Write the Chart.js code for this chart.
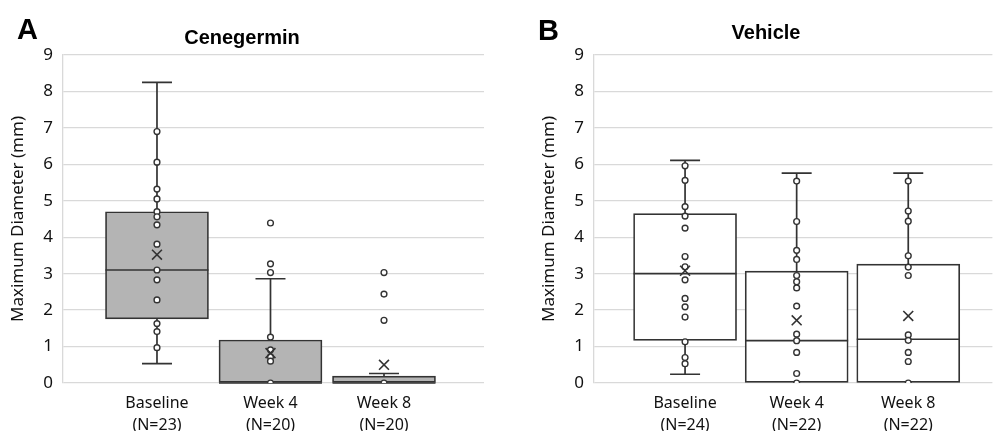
<!DOCTYPE html>
<html>
<head>
<meta charset="utf-8">
<script src="https://cdn.jsdelivr.net/npm/chart.js@4.4.0/dist/chart.umd.min.js"></script>
<style>
  body { margin: 0; background: #fff; width: 1001px; height: 431px; overflow: hidden; position: relative; }
  .panel { position: absolute; top: 0; height: 431px; }
</style>
</head>
<body>
<div class="panel" style="left:0;width:500px"><canvas id="chartA"></canvas></div>
<div class="panel" style="left:531px;width:470px"><canvas id="chartB"></canvas></div>
<script>
const timepoints = ['Baseline', 'Week 4', 'Week 8'];

// Cenegermin (panel A)
const cenegerminN = [23, 20, 20];
const cenegerminMin = [0.53, 0, 0];
const cenegerminQ1 = [1.76, 0, 0];
const cenegerminMedian = [3.10, 0, 0];
const cenegerminQ3 = [4.70, 1.18, 0.19];
const cenegerminMax = [8.25, 2.86, 0.26];
const cenegerminMean = [3.52, 0.82, 0.50];
const cenegerminPoints = [
  [6.90, 6.06, 5.32, 5.05, 4.70, 4.56, 4.34, 3.81, 3.10, 2.83, 2.28, 1.63, 1.41, 0.97],
  [4.39, 3.27, 3.03, 1.26, 0.91, 0.72, 0.60, 0],
  [3.03, 2.44, 1.72, 0]
];

// Vehicle (panel B)
const vehicleN = [24, 22, 22];
const vehicleMin = [0.24, 0, 0];
const vehicleQ1 = [1.17, 0, 0];
const vehicleMedian = [3.00, 1.16, 1.20];
const vehicleQ3 = [4.65, 3.07, 3.26];
const vehicleMax = [6.11, 5.76, 5.76];
const vehicleMean = [3.08, 1.72, 1.84];
const vehiclePoints = [
  [5.96, 5.56, 4.84, 4.58, 4.25, 3.47, 3.19, 2.83, 2.32, 2.09, 1.81, 1.13, 0.70, 0.53],
  [5.54, 4.43, 3.64, 3.39, 2.95, 2.78, 2.61, 2.11, 1.34, 1.16, 0.84, 0.26, 0],
  [5.54, 4.72, 4.44, 3.49, 3.18, 2.95, 1.32, 1.17, 0.84, 0.59, 0]
];

const yTicks = [0, 1, 2, 3, 4, 5, 6, 7, 8, 9];

const lineColor = '#333';
const textColor = '#111';
const gridColor = '#d9d9d9';

// whiskers + median line, drawn right after the boxes
const boxExtras = {
  id: 'boxExtras',
  afterDatasetDraw(chart, args, opts) {
    if (args.index !== 0) return;
    const { ctx, scales: { x, y } } = chart;
    const s = opts.stats;
    ctx.save();
    ctx.strokeStyle = lineColor;
    ctx.lineWidth = 1.7;
    s.median.forEach((m, i) => {
      const cx = x.getPixelForValue(i + 1);
      const half = opts.boxWidth / 2;
      ctx.beginPath();
      ctx.moveTo(cx - half, y.getPixelForValue(m));
      ctx.lineTo(cx + half, y.getPixelForValue(m));
      // upper whisker
      ctx.moveTo(cx, y.getPixelForValue(s.q3[i]));
      ctx.lineTo(cx, y.getPixelForValue(s.max[i]));
      ctx.moveTo(cx - 15, y.getPixelForValue(s.max[i]));
      ctx.lineTo(cx + 15, y.getPixelForValue(s.max[i]));
      // lower whisker
      if (s.min[i] < s.q1[i]) {
        ctx.moveTo(cx, y.getPixelForValue(s.q1[i]));
        ctx.lineTo(cx, y.getPixelForValue(s.min[i]));
        ctx.moveTo(cx - 15, y.getPixelForValue(s.min[i]));
        ctx.lineTo(cx + 15, y.getPixelForValue(s.min[i]));
      }
      ctx.stroke();
    });
    ctx.restore();
  }
};

// panel letter (A / B)
const panelLetter = {
  id: 'panelLetter',
  afterDraw(chart, args, opts) {
    const ctx = chart.ctx;
    ctx.save();
    ctx.font = 'bold 29px "Liberation Sans", Arial, sans-serif';
    ctx.fillStyle = '#000';
    ctx.textBaseline = 'alphabetic';
    ctx.fillText(opts.text, opts.x, opts.y);
    ctx.restore();
  }
};

function makeChart(id, cfg) {
  const scatterPts = [];
  cfg.points.forEach((arr, i) => arr.forEach(v => scatterPts.push({ x: i + 1, y: v })));

  return new Chart(document.getElementById(id), {
    type: 'bar',
    data: {
      datasets: [
        {
          type: 'bar',
          data: timepoints.map((t, i) => ({ x: i + 1, y: [cfg.q1[i], cfg.q3[i]] })),
          backgroundColor: cfg.boxColor,
          borderColor: lineColor,
          borderWidth: 1.7,
          borderSkipped: false,
          barThickness: 103,
          order: 3
        },
        {
          type: 'scatter',
          data: scatterPts,
          pointStyle: 'circle',
          pointRadius: 2.9,
          pointBackgroundColor: '#fff',
          pointBorderColor: lineColor,
          pointBorderWidth: 1.4,
          order: 2
        },
        {
          type: 'scatter',
          data: cfg.mean.map((v, i) => ({ x: i + 1, y: v })),
          pointStyle: 'crossRot',
          pointRadius: 7,
          pointBorderColor: lineColor,
          pointBorderWidth: 1.6,
          order: 1
        }
      ]
    },
    options: {
      responsive: true,
      maintainAspectRatio: false,
      animation: false,
      devicePixelRatio: 1,
      layout: { padding: { left: 0, right: cfg.padRight, top: 0, bottom: 0 } },
      plugins: {
        legend: { display: false },
        tooltip: { enabled: false },
        title: {
          display: true,
          text: cfg.title,
          color: '#000',
          font: { family: '"Liberation Sans", Arial, sans-serif', size: 20, weight: 'bold', lineHeight: 1.2 },
          padding: { top: cfg.titleTop, bottom: 50 - cfg.titleTop - 24 + 5 }
        },
        boxExtras: {
          boxWidth: 103,
          stats: { min: cfg.min, q1: cfg.q1, median: cfg.median, q3: cfg.q3, max: cfg.max }
        },
        panelLetter: { text: cfg.letter, x: cfg.letterX, y: cfg.letterY }
      },
      scales: {
        x: {
          type: 'linear',
          min: cfg.xMin,
          max: cfg.xMax,
          offset: false,
          grid: { display: false, drawTicks: false },
          border: { display: false },
          afterBuildTicks: s => { s.ticks = timepoints.map((t, i) => ({ value: i + 1 })); },
          afterFit: s => { s.height = 48; },
          ticks: {
            padding: 10,
            autoSkip: false,
            maxRotation: 0,
            color: textColor,
            font: { family: '"Noto Sans", sans-serif', size: 16, lineHeight: 1.35 },
            callback: v => [timepoints[v - 1], '(N=' + cfg.n[v - 1] + ')']
          }
        },
        y: {
          min: 0,
          max: 9,
          afterBuildTicks: s => { s.ticks = yTicks.map(v => ({ value: v })); },
          afterFit: s => { s.width = 63; },
          grid: { color: gridColor, lineWidth: 1.3, drawTicks: false },
          border: { display: true, color: gridColor, width: 1.3 },
          ticks: {
            padding: 10,
            color: textColor,
            font: { family: '"Noto Sans", sans-serif', size: 17 }
          },
          title: {
            display: true,
            text: 'Maximum Diameter (mm)',
            color: textColor,
            font: { family: '"Noto Sans", sans-serif', size: 17, lineHeight: 1.2 },
            padding: { top: 8, bottom: 0 }
          }
        }
      }
    },
    plugins: [boxExtras, panelLetter]
  });
}

makeChart('chartA', {
  title: 'Cenegermin', letter: 'A', letterX: 17, letterY: 39, titleTop: 26,
  n: cenegerminN, min: cenegerminMin, q1: cenegerminQ1, median: cenegerminMedian,
  q3: cenegerminQ3, max: cenegerminMax, mean: cenegerminMean, points: cenegerminPoints,
  boxColor: '#b4b4b4', xMin: 0.172, xMax: 3.881, padRight: 16
});

makeChart('chartB', {
  title: 'Vehicle', letter: 'B', letterX: 7, letterY: 40, titleTop: 21,
  n: vehicleN, min: vehicleMin, q1: vehicleQ1, median: vehicleMedian,
  q3: vehicleQ3, max: vehicleMax, mean: vehicleMean, points: vehiclePoints,
  boxColor: '#ffffff', xMin: 0.184, xMax: 3.754, padRight: 0
});
</script>
</body>
</html>
